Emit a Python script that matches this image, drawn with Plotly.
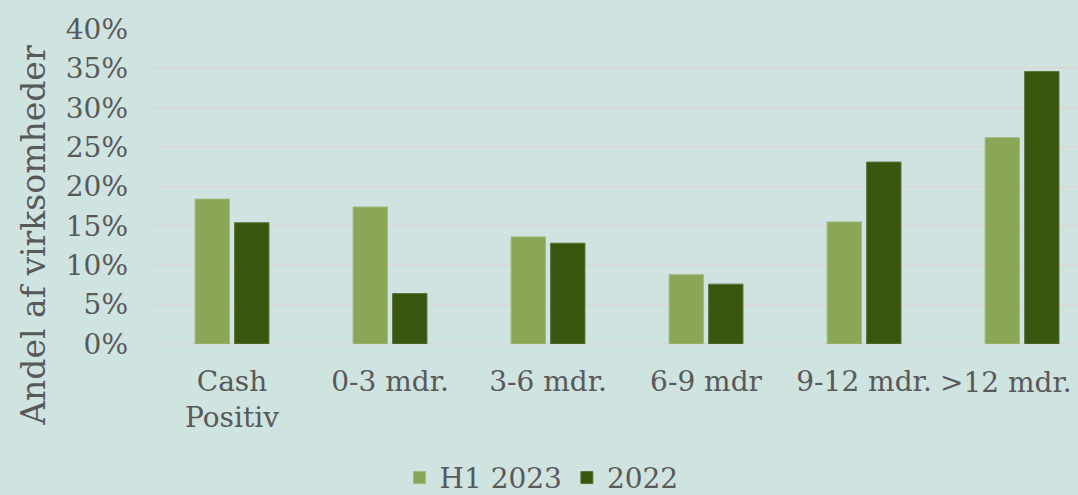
import plotly.graph_objects as go

categories = ["Cash Positiv", "0-3 mdr.", "3-6 mdr.", "6-9 mdr", "9-12 mdr.", ">12 mdr."]
tick_labels = ["Cash<br>Positiv", "0-3 mdr.", "3-6 mdr.", "6-9 mdr", "9-12 mdr.", ">12 mdr."]
h1_2023 = [0.184, 0.174, 0.136, 0.088, 0.155, 0.262]
y2022 = [0.154, 0.064, 0.128, 0.076, 0.231, 0.346]
y_ticks = [0, 0.05, 0.10, 0.15, 0.20, 0.25, 0.30, 0.35, 0.40]
y_title = "Andel af virksomheder"

FONT = "DejaVu Serif"
TXT = "#595959"
BG = "#cfe3e0"

fig = go.Figure()
fig.add_trace(go.Bar(name="H1 2023", x=categories, y=h1_2023,
                     marker=dict(color="#8aa757", line=dict(color="#a2b97e", width=1))))
fig.add_trace(go.Bar(name="2022", x=categories, y=y2022,
                     marker=dict(color="#39560e", line=dict(color="#5b733a", width=1))))

fig.update_layout(
    width=1078, height=495,
    paper_bgcolor=BG, plot_bgcolor=BG,
    margin=dict(l=153, r=0, t=29, b=151, autoexpand=False),
    barmode="group", bargap=0.5, bargroupgap=0.13,
    font=dict(family=FONT, size=28, color=TXT),
    showlegend=True,
    legend=dict(orientation="h", x=0.42, xanchor="center", y=-0.425, yanchor="middle",
                font=dict(family=FONT, size=28, color=TXT),
                bgcolor="rgba(0,0,0,0)"),
)
# last category label is drawn as an annotation kept inside the page (as in the original)
fig.update_xaxes(range=[-0.5, 5.354], showgrid=False, showline=False, ticks="",
                 tickmode="array", tickvals=categories,
                 ticktext=tick_labels[:-1] + [""],
                 ticklabelstandoff=18, tickangle=0, automargin=False,
                 tickfont=dict(family=FONT, size=28, color=TXT))
fig.update_yaxes(range=[0, 0.40], tickvals=y_ticks, tickformat=".0%",
                 showgrid=True, gridcolor="#d9d9d9", gridwidth=2, zeroline=True,
                 zerolinecolor="#d9d9d9", zerolinewidth=2, showline=False, ticks="",
                 ticklabelstandoff=24, automargin=False,
                 tickfont=dict(family=FONT, size=28, color=TXT))
fig.add_annotation(text=tick_labels[-1], xref="x", yref="paper", x=categories[-1], y=0,
                   xanchor="right", yanchor="top", xshift=52, yshift=-20, showarrow=False,
                   font=dict(family=FONT, size=28, color=TXT))
fig.add_annotation(text=y_title, xref="paper", yref="paper", x=-0.13, y=0.346,
                   xanchor="center", yanchor="middle", textangle=-90, showarrow=False,
                   font=dict(family=FONT, size=33, color=TXT))

fig.write_html("out.html", config={"displayModeBar": False},
               post_script="document.body.style.margin='0';")
